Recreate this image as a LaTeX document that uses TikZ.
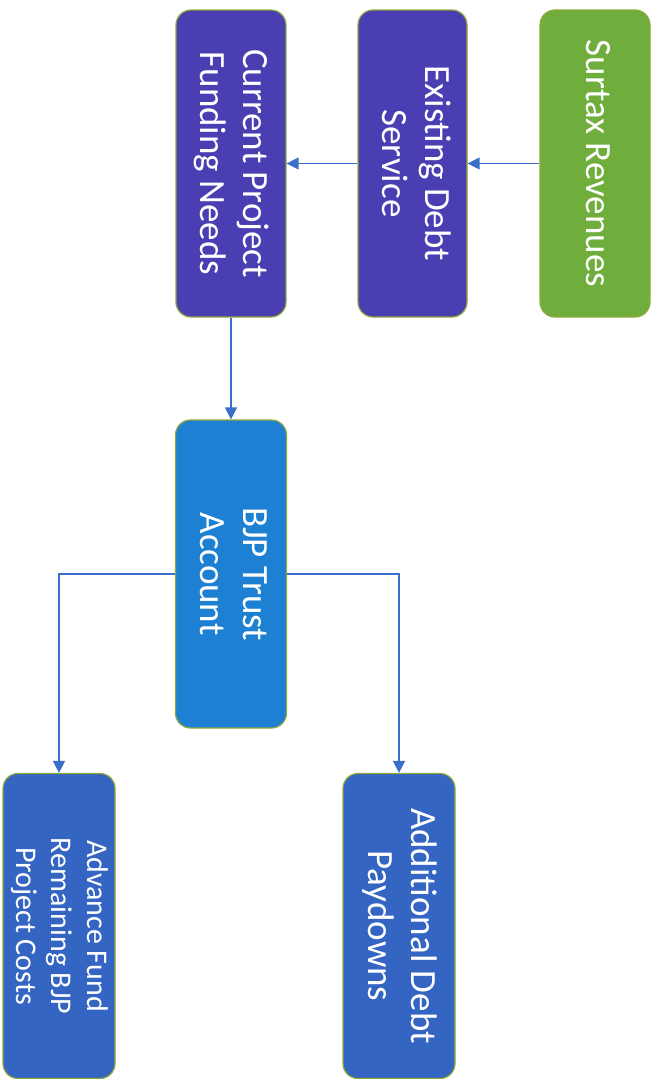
\documentclass[tikz,border=0pt]{standalone}
\usepackage{fontspec}
\setmainfont{Carlito}
\usepackage{graphicx}
\usetikzlibrary{arrows.meta}
\definecolor{cgreen}{HTML}{6FAE3C}
\definecolor{cpurple}{HTML}{4A3FB2}
\definecolor{cbjp}{HTML}{1E80D2}
\definecolor{cblue}{HTML}{3565C2}
\definecolor{cborder}{HTML}{8FA83A}
\definecolor{cline}{HTML}{3B6FC9}
\newcommand{\vtext}[2]{\rotatebox{-90}{\fontsize{#1}{1.17\dimexpr#1pt\relax}\selectfont\begin{tabular}{@{}c@{}}#2\end{tabular}}}
\tikzset{
  box/.style={draw=cborder, line width=1.2pt, rounded corners=15pt, text=white, inner sep=0pt, align=center},
  arr/.style={draw=cline, line width=1.3pt, -{Triangle[length=12pt,width=12pt]}}
}
\begin{document}
\begin{tikzpicture}[x=1pt,y=-1pt]
\useasboundingbox[fill=white] (0,0) rectangle (656,1079);
\node[box, fill=cgreen, minimum width=110pt, minimum height=307pt] (surtax) at (595,163.5) {\vtext{37}{Surtax Revenues}};
\node[box, fill=cpurple, minimum width=109pt, minimum height=307pt] (existing) at (412.5,163.5) {\vtext{37}{Existing Debt\\Service}};
\node[box, fill=cpurple, minimum width=110pt, minimum height=307pt] (current) at (231,163.5) {\vtext{37}{Current Project\\Funding Needs}};
\node[box, fill=cbjp, minimum width=111pt, minimum height=308pt] (bjp) at (231,574) {\vtext{37}{BJP Trust\\Account}};
\node[box, fill=cblue, minimum width=112pt, minimum height=305pt] (additional) at (399,926) {\vtext{37}{Additional Debt\\Paydowns}};
\node[box, fill=cblue, minimum width=112pt, minimum height=305pt] (advance) at (59,926) {\vtext{30}{Advance Fund\\Remaining BJP\\Project Costs}};
\draw[arr] (surtax.west) -- (existing.east);
\draw[arr] (existing.west) -- (current.east);
\draw[arr] (current.south) -- (bjp.north);
\draw[arr] (bjp.east) -| (additional.north);
\draw[arr] (bjp.west) -| (advance.north);
\end{tikzpicture}
\end{document}
